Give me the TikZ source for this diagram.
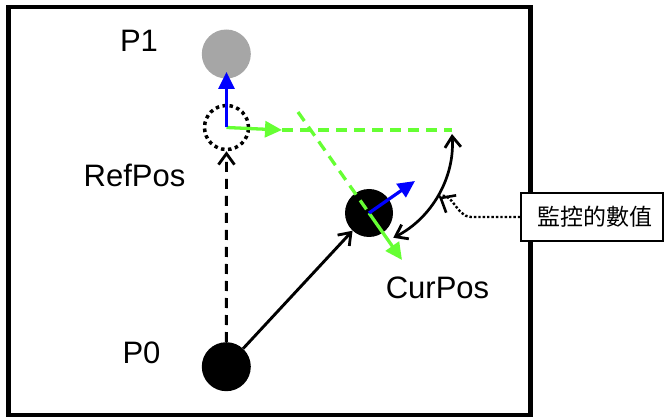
\documentclass[tikz,border=0pt]{standalone}
\usepackage{fontspec}
\setmainfont{Liberation Sans}
\newfontfamily\cjk{Noto Sans CJK TC}
\usetikzlibrary{arrows.meta}
\definecolor{vecgreen}{HTML}{66FF33}
\definecolor{ballgray}{HTML}{A6A6A6}
\begin{document}
\begin{tikzpicture}[x=1pt,y=-1pt,
  lbl/.style={font=\fontsize{31}{31}\selectfont, anchor=base, inner sep=0pt},
  ball/.style={circle, fill=black, inner sep=0pt, minimum size=48pt},
  barb/.tip={Straight Barb[length=11pt,width=16pt,line width=2.8pt]},
  openhead/.style={-barb},
  fillhead/.style={-{Triangle[length=17pt,width=16pt]}},
  gvec/.style={vecgreen, line width=3.3pt},
  bvec/.style={blue, line width=3.2pt, fillhead},
  gdash/.style={gvec, dash pattern=on 11pt off 7pt},
  blk/.style={black, line width=2.9pt}]
\useasboundingbox (0,0) rectangle (666,419);

% outer frame
\draw[line width=4.5pt] (8.5,7) rectangle (530.5,415);

% positions
\node[circle, fill=ballgray, inner sep=0pt, minimum size=49pt] (p1) at (226.3,54) {};
\node[circle, draw, line width=3.5pt, dash pattern=on 3.5pt off 3.5pt,
      inner sep=0pt, minimum size=44pt] (ref) at (226.5,127.5) {};
\node[ball] (cur) at (369,213) {};
\node[ball, minimum size=49pt] (p0) at (226.3,366.7) {};

% labels
\node[lbl] (p1lbl) at (139,52) {P1};
\node[lbl] (reflbl) at (134.5,187) {RefPos};
\node[lbl] (curlbl) at (437.5,299) {CurPos};
\node[lbl] (p0lbl) at (141.5,363) {P0};

% callout box
\node[draw, fill=white, line width=1.5pt, inner sep=0pt,
      minimum width=142pt, minimum height=48pt,
      font=\cjk\fontsize{23}{23}\selectfont] (note) at (592,217) {\hspace{5pt}監控的數值};

% reference frame at RefPos
\coordinate (gA) at (282,130);
\coordinate (gEnd) at (452,130);
\coordinate (bA) at (226.5,72);
\draw[gvec, fillhead] (ref.center) -- (gA);
\draw[gdash] (gA) -- (gEnd);
\draw[bvec] (ref.center) -- (bA);

% moves from P0
\draw[blk, dash pattern=on 10pt off 7pt, openhead] (p0) -- (ref);
\draw[blk, openhead] (p0) -- (cur);

% frame at CurPos
\coordinate (dStart) at (298,112);
\coordinate (gB) at (402,260);
\coordinate (bB) at (415,181);
\draw[gdash] (dStart) -- (cur.center);
\draw[gvec, fillhead] (cur.center) -- (gB);
\draw[bvec] (cur.center) -- (bB);

% monitored angle
\coordinate (arcTop) at (452,134);
\draw[blk, line width=2.7pt, barb-barb] (arcTop) arc[start angle=-4, end angle=63, radius=108];

% pointer from callout: dotted line, then a solid head
\coordinate (mark) at (439,197);
\coordinate (bend) at (471,217);
\draw[line width=2.4pt, dash pattern=on 2.4pt off 2pt]
  (note.west) -- (bend) to[out=180, in=30] (mark);
\draw[line width=2.6pt, -{Straight Barb[length=12pt,width=20pt]}]
  (mark) ++(30:3) -- (mark);
\end{tikzpicture}
\end{document}
